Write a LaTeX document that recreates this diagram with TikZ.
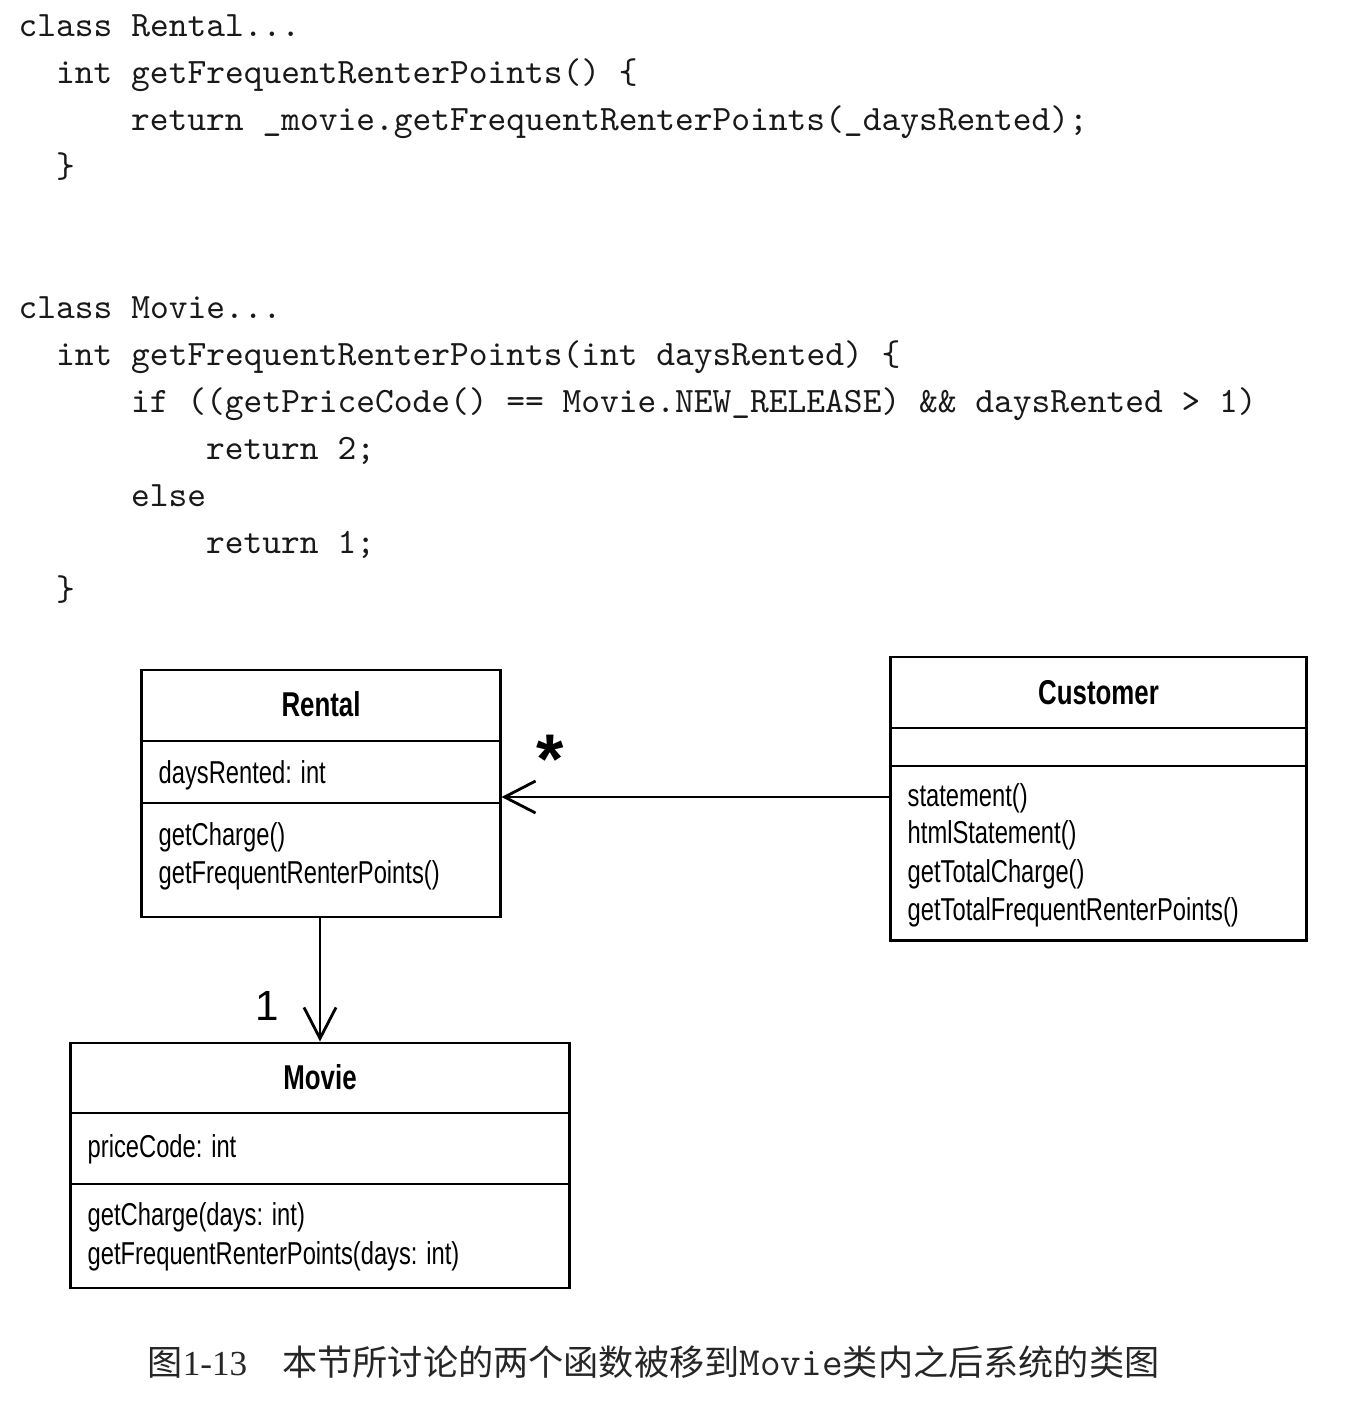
\documentclass[tikz,border=0pt]{standalone}
\usepackage{fontspec}
\usetikzlibrary{arrows.meta}
\newfontfamily\codefont{Latin Modern Mono}
\newfontfamily\umlfont[FakeStretch=0.75]{Liberation Sans}
\newfontfamily\starfont{Liberation Sans}
\newfontfamily\cjkfont{Noto Sans CJK SC}
\newfontfamily\capserif{Liberation Serif}
\tikzset{
  code/.style={anchor=base west, inner sep=0, font=\codefont\fontsize{10.16}{12}\selectfont, text=black!90},
  uml/.style={anchor=base west, inner sep=0, font=\umlfont\fontsize{9}{10}\selectfont},
  umltitle/.style={anchor=base, inner sep=0, font=\umlfont\bfseries\fontsize{9.8}{11}\selectfont},
  classbox/.style={draw, line width=0.8pt, inner sep=0},
  sep/.style={line width=0.8pt},
  assoc/.style={line width=0.8pt, -{Straight Barb[length=0.31cm,width=0.32cm]}},
  mult/.style={anchor=base, inner sep=0}
}
\begin{document}
\begin{tikzpicture}[x=0.01cm, y=-0.01cm]
\fill[white] (0,0) rectangle (1361,1409);
\useasboundingbox (0,0) rectangle (1361,1409);

% code: class Rental
\node[code] (r1) at (18,36) {class Rental...};
\node[code] (r2) at (55.5,83) {int getFrequentRenterPoints() \{};
\node[code] (r3) at (130.5,130) {return \_movie.getFrequentRenterPoints(\_daysRented);};
\node[code] (r4) at (55.5,177) {\}};

% code: class Movie
\node[code] (m1) at (18,318) {class Movie...};
\node[code] (m2) at (55.5,365) {int getFrequentRenterPoints(int daysRented) \{};
\node[code] (m3) at (130.5,412) {if ((getPriceCode() == Movie.NEW\_RELEASE) \&\& daysRented > 1)};
\node[code] (m4) at (205.5,459) {return 2;};
\node[code] (m5) at (130.5,506) {else};
\node[code] (m6) at (205.5,553) {return 1;};
\node[code] (m7) at (55.5,600) {\}};

% class boxes
\node[classbox, minimum width=3.58cm, minimum height=2.47cm] (rental) at (321,793.5) {};
\node[classbox, minimum width=4.15cm, minimum height=2.83cm] (customer) at (1098.5,798.5) {};
\node[classbox, minimum width=4.98cm, minimum height=2.45cm] (movie) at (320,1165.5) {};

% separators
\draw[sep] (rental.west |- 0,741) -- (rental.east |- 0,741);
\draw[sep] (rental.west |- 0,803) -- (rental.east |- 0,803);
\draw[sep] (customer.west |- 0,728) -- (customer.east |- 0,728);
\draw[sep] (customer.west |- 0,766) -- (customer.east |- 0,766);
\draw[sep] (movie.west |- 0,1113) -- (movie.east |- 0,1113);
\draw[sep] (movie.west |- 0,1184) -- (movie.east |- 0,1184);

% Rental texts
\node[umltitle] (rt) at (321,716) {Rental};
\node[uml] (ra) at (158,783) {daysRented: int};
\node[uml] (rm1) at (158,845) {getCharge()};
\node[uml] (rm2) at (158,883) {getFrequentRenterPoints()};

% Customer texts
\node[umltitle] (ct) at (1098.5,704) {Customer};
\node[uml] (cm1) at (907,806) {statement()};
\node[uml] (cm2) at (907,843) {htmlStatement()};
\node[uml] (cm3) at (907,882) {getTotalCharge()};
\node[uml] (cm4) at (907,920) {getTotalFrequentRenterPoints()};

% Movie texts
\node[umltitle] (mt) at (320,1089) {Movie};
\node[uml] (ma) at (87,1157) {priceCode: int};
\node[uml] (mm1) at (87,1225) {getCharge(days: int)};
\node[uml] (mm2) at (87,1264) {getFrequentRenterPoints(days: int)};

% associations
\draw[assoc] (customer.west |- 0,797) -- (rental.east |- 0,797);
\draw[assoc] (rental.south -| movie.north) -- (movie.north);
\node[mult, font=\starfont\bfseries\fontsize{20}{22}\selectfont] (star) at (550,783) {*};
\node[mult, font=\starfont\fontsize{12}{14}\selectfont] (one) at (267,1020) {1};

% caption
\node[anchor=base west, inner sep=0, text=black!85] (cap) at (147,1375)
  {\cjkfont\fontsize{10}{12}\selectfont 图{\capserif 1-13}\hspace{10pt}本节所讨论的两个函数被移到{\codefont\fontsize{11.4}{12}\selectfont Movie}类内之后系统的类图};
\end{tikzpicture}
\end{document}
